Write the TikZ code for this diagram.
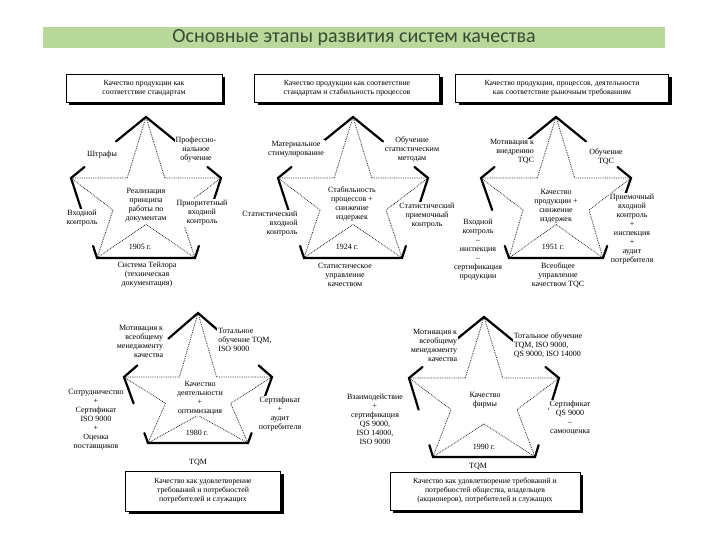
\documentclass[tikz,border=0pt]{standalone}
\usepackage{fontspec}
\setmainfont{Liberation Serif}
\newfontfamily\titlefont{Carlito}
\usetikzlibrary{calc,shadows}
\definecolor{titlebg}{HTML}{B8D89C}
\definecolor{titlefg}{HTML}{3A4A30}
\tikzset{
  bold/.style={line width=2.2pt,line cap=round},
  dots/.style={densely dotted,line width=0.8pt,black!85},
  lbl/.style={font=\fontsize{8}{9}\selectfont,align=center,inner sep=1pt,fill=white},
  boxs/.style={draw,fill=white,line width=0.5pt,align=center,font=\fontsize{7.8}{9}\selectfont,
    drop shadow={shadow xshift=3pt,shadow yshift=-3pt,opacity=1,fill=black}},
}
\newcommand\starfig[7]{%
 \coordinate (#1T) at (#2,#3);
 \coordinate (#1L) at ({#2-#6},#4);
 \coordinate (#1R) at ({#2+#6},#4);
 \coordinate (#1BL) at ({#2-#7},#5);
 \coordinate (#1BR) at ({#2+#7},#5);
 \coordinate (#1iUL) at ({#2-0.25*#6},#4);
 \coordinate (#1iUR) at ({#2+0.25*#6},#4);
 \coordinate (#1iLL) at ({#2-0.44*#6},{#4+0.4*(#5-#4)});
 \coordinate (#1iLR) at ({#2+0.44*#6},{#4+0.4*(#5-#4)});
 \coordinate (#1iB) at (#2,{#4+0.58*(#5-#4)});
 \draw[dots] (#1T)--(#1iUL)--(#1L)--(#1iLL)--(#1BL)--(#1iB)--(#1BR)--(#1iLR)--(#1R)--(#1iUR)--cycle;
 \draw[bold] ($(#1T)!0.4!(#1L)$)--(#1T)--($(#1T)!0.4!(#1R)$);
 \draw[bold] ($(#1L)!0.18!(#1T)$)--(#1L)--($(#1L)!0.4!(#1BL)$);
 \draw[bold] ($(#1R)!0.18!(#1T)$)--(#1R)--($(#1R)!0.4!(#1BR)$);
 \draw[bold] ($(#1BL)!0.15!(#1L)$)--(#1BL)--(#1BR)--($(#1BR)!0.15!(#1R)$);
}
\begin{document}
\begin{tikzpicture}[x=1pt,y=-1pt]
\useasboundingbox (0,0) rectangle (720,540);
\fill[white] (0,0) rectangle (720,540);
% title
\node[fill=titlebg,minimum width=622pt,minimum height=21pt,inner sep=0pt,
  text=titlefg,font=\titlefont\fontsize{20}{22}\selectfont] (title) at (354,38) {Основные этапы развития систем качества};
% boxes
\node[boxs,minimum width=156pt,minimum height=28pt] (b1) at (144,88) {Качество продукции как\\соответствие стандартам};
\node[boxs,minimum width=185pt,minimum height=28pt] (b2) at (347,88) {Качество продукции как соответствие\\стандартам и стабильность процессов};
\node[boxs,minimum width=213pt,minimum height=28pt] (b3) at (562,88) {Качество продукции, процессов, деятельности\\как соответствие рыночным требованиям};
\node[boxs,minimum width=155pt,minimum height=40pt] (b4) at (203,491) {Качество как удовлетворение\\требований и потребностей\\потребителей и служащих};
\node[boxs,minimum width=190pt,minimum height=38pt] (b5) at (485,491) {Качество как удовлетворение требований и\\потребностей общества, владельцев\\(акционеров), потребителей и служащих};
% stars
\starfig{a}{146}{117}{178}{258}{75}{49}
\starfig{b}{353}{117}{178}{258}{75}{49}
\starfig{c}{556}{117}{178}{258}{75}{47}
\starfig{d}{198}{313}{377}{443}{74}{50}
\starfig{e}{484}{317}{378}{457}{75}{51}
% star 1
\node[lbl] (a1) at (102,155) {Штрафы};
\node[lbl] (a2) at (196,150) {Профессио-\\нальное\\обучение};
\node[lbl] (a3) at (146,205) {Реализация\\принципа\\работы по\\документам};
\node[lbl] (a4) at (82,218) {Входной\\контроль};
\node[lbl] (a5) at (202,213) {Приоритетный\\входной\\контроль};
\node[lbl] (a6) at (140,247) {1905 г.};
\node[lbl] (a7) at (147,275) {Система Тейлора\\(техническая\\документация)};
% star 2
\node[lbl] (b1l) at (296,149) {Материальное\\стимулирование};
\node[lbl] (b2l) at (412,149) {Обучение\\статистическим\\методам};
\node[lbl] (b3l) at (352,204) {Стабильность\\процессов +\\снижение\\издержек};
\node[lbl,align=right] (b4l) at (270,224) {Статистический\\входной\\контроль};
\node[lbl] (b5l) at (427,216) {Статистический\\приемочный\\контроль};
\node[lbl] (b6l) at (347,247) {1924 г.};
\node[lbl] (b7l) at (345,275) {Статистическое\\управление\\качеством};
% star 3
\node[lbl,align=right] (c1) at (512,152) {Мотивация к\\внедрению\\TQC};
\node[lbl] (c2) at (606,157) {Обучение\\TQC};
\node[lbl] (c3) at (556,206) {Качество\\продукции +\\снижение\\издержек};
\node[lbl] (c4) at (478,250) {Входной\\контроль\\–\\инспекция\\–\\сертификация\\продукции};
\node[lbl] (c5) at (632,229) {Приемочный\\входной\\контроль\\+\\инспекция\\+\\аудит\\потребителя};
\node[lbl] (c6) at (553,247) {1951 г.};
\node[lbl] (c7) at (558,275) {Всеобщее\\управление\\качеством TQC};
% star 4
\node[lbl,align=right] (d1) at (140,341) {Мотивация к\\всеобщему\\менеджменту\\качества};
\node[lbl,align=left] (d2) at (245,340) {Тотальное\\обучение TQM,\\ISO 9000};
\node[lbl] (d3) at (200,398) {Качество\\деятельности\\+\\оптимизация};
\node[lbl] (d4) at (96,420) {Сотрудничество\\+\\Сертификат\\ISO 9000\\+\\Оценка\\поставщиков};
\node[lbl] (d5) at (280,414) {Сертификат\\+\\аудит\\потребителя};
\node[lbl] (d6) at (197,433) {1980 г.};
\node[lbl] (d7) at (198,462) {TQM};
% star 5
\node[lbl,align=right] (e1) at (434,345) {Мотивация к\\всеобщему\\менеджменту\\качества};
\node[lbl,align=left] (e2) at (548,345) {Тотальное обучение\\TQM, ISO 9000,\\QS 9000, ISO 14000};
\node[lbl] (e3) at (485,400) {Качество\\фирмы};
\node[lbl] (e4) at (375,419) {Взаимодействие\\+\\сертификация\\QS 9000,\\ISO 14000,\\ISO 9000};
\node[lbl] (e5) at (570,418) {Сертификат\\QS 9000\\–\\самооценка};
\node[lbl] (e6) at (484,447) {1990 г.};
\node[lbl] (e7) at (478,466) {TQM};
\end{tikzpicture}
\end{document}
